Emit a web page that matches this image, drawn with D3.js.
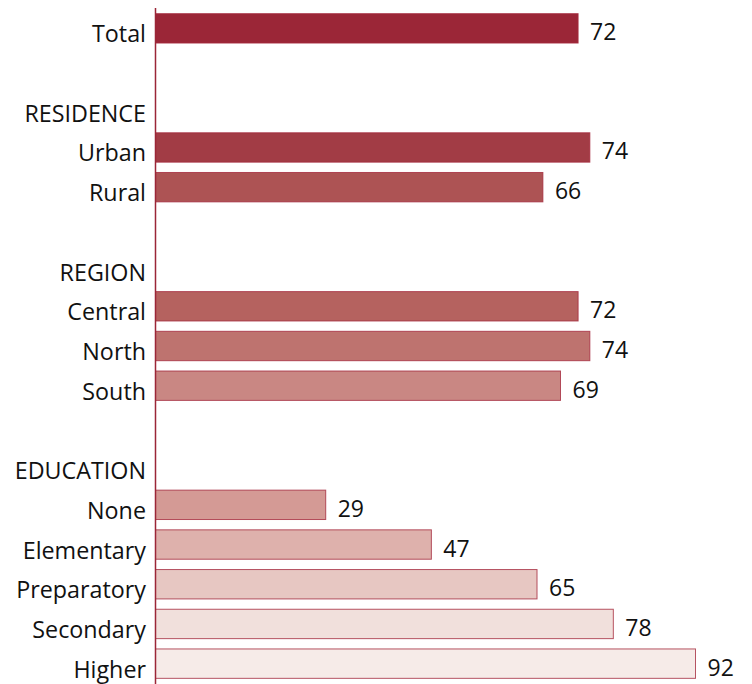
<!DOCTYPE html>
<html><head><meta charset="utf-8">
<script src="https://cdn.jsdelivr.net/npm/d3@7"></script>
<style>
html,body{margin:0;padding:0;background:#fff;}
svg text{font-family:"Open Sans","Noto Sans",sans-serif;fill:#111;}
</style></head>
<body><svg id="chart" width="752" height="684"></svg>
<script>
const categories = ["Total","","RESIDENCE","Urban","Rural","","REGION","Central","North","South","","EDUCATION","None","Elementary","Preparatory","Secondary","Higher"];
const values = [72,null,null,74,66,null,null,72,74,69,null,null,29,47,65,78,92];
const palette = ["#9b2637",null,null,"#a23c45","#ad5354",null,null,"#b5625f","#be736f","#c98783",null,null,"#d49a95","#deb1ac","#e7c7c2","#f1e0dc","#f6ebe8"];

const svg = d3.select("#chart");
const rows = categories.map((c,i)=>({i, label:c, value:values[i], color:palette[i]}));

const y = d3.scaleBand().domain(d3.range(rows.length)).range([8.5, 683.5]).paddingInner(0.26).paddingOuter(0.13);
const x = d3.scaleLinear().domain([0, 92]).range([155.5, 695.5]);

svg.append("g").selectAll("rect").data(rows.filter(d=>d.value!=null)).join("rect")
  .attr("x", x(0)).attr("y", d=>y(d.i)).attr("width", d=>x(d.value)-x(0)).attr("height", y.bandwidth())
  .attr("fill", d=>d.color).attr("stroke","#a52b3d").attr("stroke-width",1).attr("stroke-opacity",0.8);

svg.append("line").attr("x1",x(0)).attr("x2",x(0)).attr("y1",8).attr("y2",684)
  .attr("stroke","#9b2637").attr("stroke-width",1.5);

svg.append("g").selectAll("text").data(rows.filter(d=>d.label)).join("text")
  .attr("x",146).attr("y", d=>y(d.i)+y.bandwidth()/2+14)
  .attr("text-anchor","end").attr("font-size",23.3).text(d=>d.label);

svg.append("g").selectAll("text").data(rows.filter(d=>d.value!=null)).join("text")
  .attr("x", d=>x(d.value)+12).attr("y", d=>y(d.i)+y.bandwidth()/2+12)
  .attr("font-size",23).text(d=>d.value);
</script></body></html>
